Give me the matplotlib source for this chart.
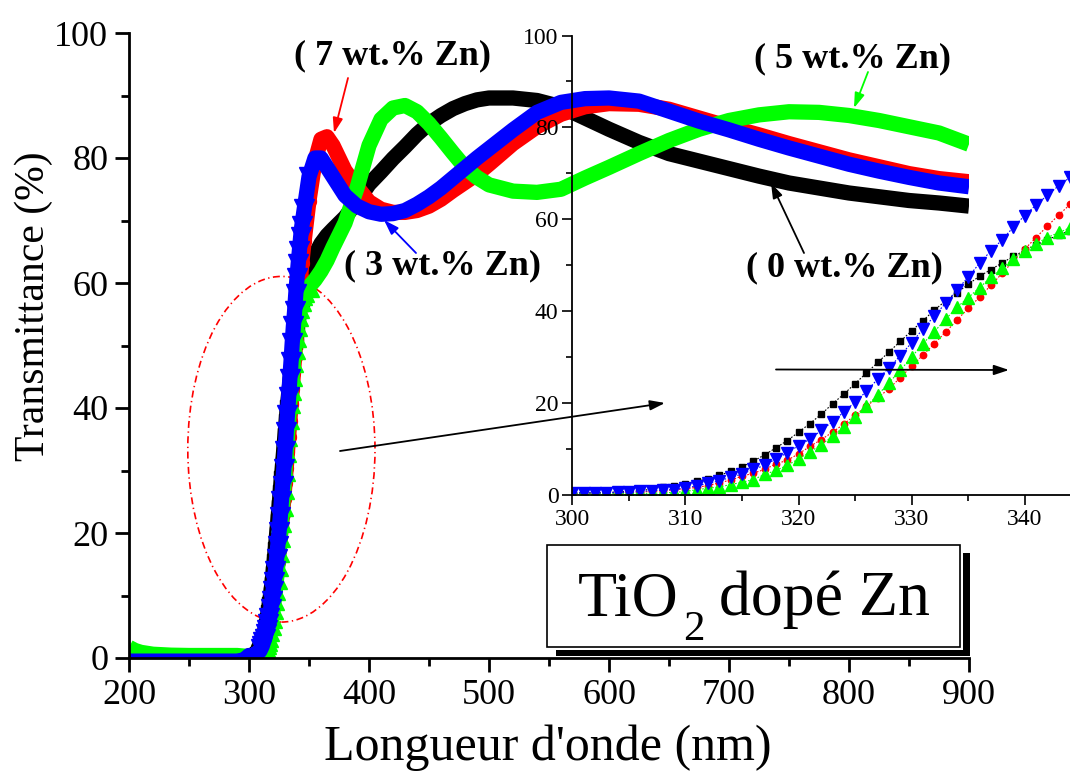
import numpy as np
import matplotlib
matplotlib.use("Agg")
import matplotlib.pyplot as plt
from matplotlib.patches import Ellipse, Rectangle, FancyArrowPatch
from matplotlib.ticker import MultipleLocator

plt.rcParams["font.family"] = ["Liberation Serif", "DejaVu Serif"]

# ---------------- data ----------------
# UV side, before the absorption edge (nm, %)
wl_pre = [200, 205, 210, 220, 235, 250, 270, 290, 296]
black_pre = [-0.3, -0.3, -0.3, -0.3, -0.3, -0.3, -0.3, -0.3, -0.2]
red_pre = [-0.3, -0.3, -0.3, -0.3, -0.3, -0.3, -0.3, -0.3, -0.2]
green_pre = [1.7, 1.2, 0.9, 0.6, 0.45, 0.4, 0.4, 0.4, 0.3]
blue_pre = [-0.5, -0.5, -0.5, -0.5, -0.5, -0.5, -0.5, -0.5, -0.3]

# absorption edge, 1 nm step (also shown enlarged)
wl_edge = list(range(300, 345))
black_edge = [0.3, 0.4, 0.4, 0.5, 0.6, 0.7, 0.9, 1.2, 1.7, 2.0,
              2.4, 2.9, 3.5, 4.2, 5.1, 6.1, 7.3, 8.7, 10.2, 11.8,
              13.6, 15.5, 17.5, 19.8, 21.9, 24.2, 26.5, 28.8, 31.1, 33.4,
              35.7, 37.9, 40.2, 42.2, 44.0, 45.8, 47.6, 49.0, 50.5, 51.9,
              53.2, 54.4, 55.5, 56.6, 57.5]
red_edge = [0.3, 0.3, 0.4, 0.4, 0.4, 0.5, 0.6, 0.7, 0.9, 1.1,
            1.3, 1.6, 2.0, 2.6, 3.2, 4.0, 4.7, 5.5, 6.7, 7.5,
            8.9, 10.5, 12.0, 13.6, 15.4, 17.3, 19.3, 21.1, 23.1, 25.5,
            28.0, 30.4, 32.9, 35.4, 38.0, 40.6, 43.0, 45.6, 48.2, 50.9,
            53.5, 56.0, 58.5, 60.9, 63.2]
green_edge = [0.2, 0.3, 0.3, 0.3, 0.3, 0.3, 0.3, 0.3, 0.4, 0.5,
              0.7, 1.1, 1.4, 1.7, 2.2, 2.7, 3.3, 4.4, 5.3, 6.4,
              7.8, 9.3, 10.9, 12.7, 14.8, 16.9, 19.3, 21.7, 24.4, 27.1,
              30.0, 32.9, 35.5, 38.2, 40.8, 42.9, 45.1, 47.3, 49.4, 51.4,
              53.1, 54.7, 56.0, 57.1, 58.1]
blue_edge = [0.4, 0.4, 0.4, 0.4, 0.5, 0.5, 0.7, 0.9, 1.0, 1.1,
             1.5, 1.9, 2.5, 3.0, 3.8, 4.5, 5.5, 6.4, 7.8, 9.1,
             10.7, 12.1, 14.0, 15.9, 18.0, 20.2, 22.5, 25.2, 27.6, 30.3,
             33.1, 36.1, 38.9, 41.7, 44.6, 47.4, 50.4, 53.1, 55.5, 58.3,
             60.8, 63.1, 65.2, 67.3, 69.1]

# visible / near-IR side (nm, %)
wl_post = [346, 350, 355, 360, 365, 370, 380, 390, 400, 410, 420, 430,
           440, 450, 460, 470, 480, 490, 500, 520, 540, 560, 580, 600,
           625, 650, 675, 700, 725, 750, 775, 800, 825, 850, 875, 900]
black_post = [59.0, 62.0, 64.5, 66.3, 67.6, 68.6, 70.5, 73.0, 75.8, 77.8,
              79.9, 81.8, 83.8, 85.5, 86.8, 87.9, 88.7, 89.3, 89.6, 89.6,
              89.2, 88.2, 86.4, 84.6, 82.5, 80.7, 79.5, 78.3, 77.1, 76.0,
              75.2, 74.4, 73.8, 73.2, 72.8, 72.3]
red_post = [66.8, 73.2, 79.5, 83.0, 83.4, 82.0, 78.0, 75.4, 73.0, 71.8,
            71.3, 71.3, 71.6, 72.3, 73.4, 74.8, 76.1, 77.4, 79.0, 82.3,
            85.0, 87.0, 88.2, 88.7, 88.6, 87.8, 86.4, 85.0, 83.7, 82.3,
            81.0, 79.7, 78.6, 77.5, 76.7, 76.2]
green_post = [58.6, 59.4, 60.5, 61.9, 63.6, 65.7, 69.6, 75.2, 82.0, 86.2,
              88.0, 88.4, 87.4, 85.5, 83.2, 80.8, 78.5, 76.9, 75.7, 74.7,
              74.5, 75.0, 76.8, 78.5, 80.7, 82.8, 84.6, 86.0, 86.9, 87.4,
              87.3, 86.8, 86.0, 85.0, 84.0, 82.2]
blue_post = [71.8, 77.0, 80.0, 80.0, 78.5, 77.0, 74.0, 72.3, 71.4, 71.0,
             71.1, 71.6, 72.6, 73.8, 75.2, 76.8, 78.4, 80.0, 81.5, 84.5,
             87.3, 88.9, 89.5, 89.6, 89.1, 87.5, 85.9, 84.5, 83.0, 81.6,
             80.3, 79.0, 77.9, 76.9, 76.0, 75.4]

# name, colour, marker, data, marker size (full spectrum), marker size (zoom)
series = [
    ("black", "#000000", "s", black_pre, black_edge, black_post, 10, 4.2),
    ("red", "#ff0000", "o", red_pre, red_edge, red_post, 10, 4.6),
    ("green", "#00ff00", "^", green_pre, green_edge, green_post, 14, 8.0),
    ("blue", "#0000ff", "v", blue_pre, blue_edge, blue_post, 14, 8.5),
]

labels = [("( 7 wt.% Zn)", 392, 56), ("( 3 wt.% Zn)", 442, 266),
          ("( 5 wt.% Zn)", 853, 59), ("( 0 wt.% Zn)", 844, 268)]

# ---------------- figure ----------------
W, H = 1070, 773
fig = plt.figure(figsize=(W / 100, H / 100), dpi=100)


def fx(x):
    return x / W


def fy(y):
    return 1 - y / H


ax = fig.add_axes([fx(129), fy(658), (969 - 129) / W, (658 - 33) / H])
wl_all = np.array(wl_pre + wl_edge + wl_post, dtype=float)
marks = list(np.where((wl_all >= 310) & (wl_all <= 352))[0])
for name, col, mk, pre, edge, post, ms, _ in series:
    y = np.array(pre + edge + post, dtype=float)
    ax.plot(wl_all, y, color=col, lw=11, solid_capstyle="butt",
            solid_joinstyle="round", marker=mk, ms=ms, markevery=marks,
            mec=col, mfc=col)

ax.set_xlim(200, 900)
ax.set_ylim(0, 100)
for s in ("top", "right"):
    ax.spines[s].set_visible(False)
for s in ("left", "bottom"):
    ax.spines[s].set_linewidth(2)
ax.xaxis.set_major_locator(MultipleLocator(100))
ax.xaxis.set_minor_locator(MultipleLocator(50))
ax.yaxis.set_major_locator(MultipleLocator(20))
ax.yaxis.set_minor_locator(MultipleLocator(10))
ax.tick_params(which="major", direction="out", length=10, width=2,
               labelsize=26, pad=5)
ax.tick_params(which="minor", direction="out", length=6, width=2)

# dash-dot ellipse around the absorption edge
ax.add_patch(Ellipse((327, 33.4), 156, 55.3, fill=False, ec="#ff0000",
                     lw=1.2, ls=(0, (4.2, 2.1, 0.8, 2.1)), clip_on=False))

fig.text(fx(34), fy(306), "Transmittance (%)", rotation=90, ha="center",
         va="center", fontsize=30)
fig.text(fx(548), fy(748), "Longueur d'onde (nm)", ha="center",
         va="center", fontsize=36)

# ---------------- enlarged edge ----------------
ins = fig.add_axes([fx(572.4), fy(494.7), (W - 572.4) / W, (494.7 - 35.5) / H])
ins.patch.set_visible(False)
for name, col, mk, pre, edge, post, _, ms in series:
    ins.plot(wl_edge, edge, color=col, lw=0.8, ls=(0, (1.5, 1.5)),
             marker=mk, ms=ms, mec=col, mfc=col)
ins.set_xlim(300, 344)
ins.set_ylim(0, 100)
for s in ("top", "right"):
    ins.spines[s].set_visible(False)
for s in ("left", "bottom"):
    ins.spines[s].set_linewidth(1.3)
ins.xaxis.set_major_locator(MultipleLocator(10))
ins.xaxis.set_minor_locator(MultipleLocator(5))
ins.yaxis.set_major_locator(MultipleLocator(20))
ins.yaxis.set_minor_locator(MultipleLocator(10))
ins.tick_params(which="major", direction="out", length=7, width=1.2,
                labelsize=17, pad=3)
ins.tick_params(which="minor", direction="out", length=4, width=1.2)


# ---------------- arrows ----------------
def arrow(p0, p1, col, lw=1.3, hl=0.9, hw=0.3):
    a = FancyArrowPatch((fx(p0[0]), fy(p0[1])), (fx(p1[0]), fy(p1[1])),
                        transform=fig.transFigure,
                        arrowstyle=f"-|>,head_length={hl},head_width={hw}",
                        mutation_scale=10, color=col, lw=lw,
                        shrinkA=0, shrinkB=0)
    fig.add_artist(a)


arrow((340, 451), (665, 403), "black")
arrow((776, 369.5), (1009, 370), "black")
arrow((348, 78), (334, 133), "#ff0000")
arrow((416, 253), (384, 220), "#0000ff")
arrow((868, 72), (854, 108), "#00ff00")
arrow((804, 253), (771, 183), "black")

for txt, x, y in labels:
    fig.text(fx(x), fy(y), txt, ha="center", va="center", fontsize=26,
             fontweight="bold")

# ---------------- sample label box ----------------
fig.add_artist(Rectangle((fx(556), fy(656)), (970 - 556) / W, (656 - 553) / H,
                         transform=fig.transFigure, fc="black", ec="none"))
fig.add_artist(Rectangle((fx(547), fy(650)), (963 - 547) / W, (650 - 545) / H,
                         transform=fig.transFigure, fc="white", ec="none"))
fig.add_artist(Rectangle((fx(547), fy(647)), (960 - 547) / W, (647 - 545) / H,
                         transform=fig.transFigure, fc="white", ec="black",
                         lw=1.2))
fig.text(fx(578), fy(615), "TiO", ha="left", va="baseline", fontsize=46)
fig.text(fx(683), fy(640), "2", ha="left", va="baseline", fontsize=31)
fig.text(fx(719), fy(615), "dopé Zn", ha="left", va="baseline", fontsize=46)

fig.savefig("out.png", dpi=100)
